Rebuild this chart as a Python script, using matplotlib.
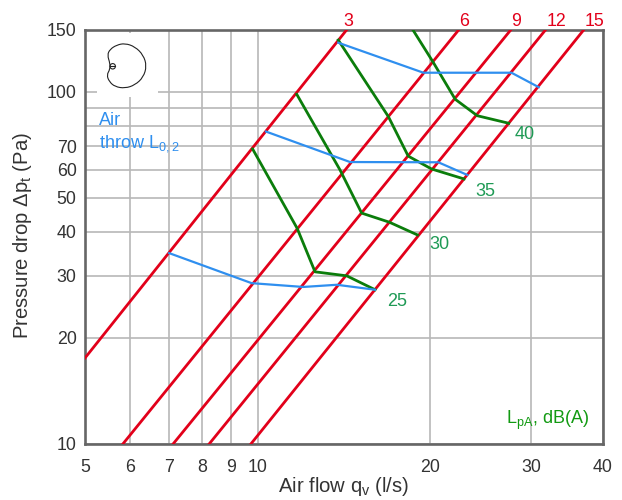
import matplotlib
matplotlib.use("Agg")
import matplotlib.pyplot as plt
import numpy as np
from matplotlib.patches import PathPatch, Rectangle
from matplotlib.path import Path

plt.rcParams['font.family'] = ['Liberation Sans', 'DejaVu Sans']
plt.rcParams['mathtext.default'] = 'regular'

# data, q in l/s and p in Pa
x_ticks = [5, 6, 7, 8, 9, 10, 20, 30, 40]
x_labels = ['5', '6', '7', '8', '9', '10', '20', '30', '40']
y_ticks = [10, 20, 30, 40, 50, 60, 70, 80, 90, 100, 150]
y_labels = ['10', '20', '30', '40', '50', '60', '70', '', '', '100', '150']

throw_names = ['3', '6', '9', '12', '15']
throw_q = [[5, 14.31], [5.82, 22.44], [7.12, 27.66], [8.23, 31.8], [9.73, 37.07]]
throw_p = [[17.54, 150], [10, 150], [10, 150], [10, 150], [10, 150]]

blue_q = [[7.01, 9.76, 12.01, 13.74, 16.02],
          [10.34, 14.49, 20.65, 23.2],
          [13.82, 19.45, 27.7, 30.9]]
blue_p = [[34.8, 28.6, 27.9, 28.3, 27.4],
          [77.0, 63.1, 63.0, 58.0],
          [137.6, 113.1, 113.1, 102.9]]

sound_names = ['25', '30', '35', '40']
green_q = [[9.8, 11.72, 12.59, 14.3, 16.02],
           [11.7, 13.92, 15.18, 16.96, 18.99],
           [13.82, 16.9, 18.3, 20.1, 22.9],
           [18.63, 20.2, 22.1, 24.15, 27.4]]
green_p = [[68.7, 40.9, 30.8, 30.0, 27.4],
           [98.2, 59.9, 45.2, 42.6, 39.2],
           [140, 84.9, 65.6, 60.3, 56.5],
           [150, 121.6, 95.1, 85.4, 81.3]]

# outline of the little directivity icon, in picture pixels
icon_x = [110, 107.3, 110, 116.7, 125, 135, 143.3, 146.7, 143.3, 135, 125, 115, 109.3, 106.7, 110]
icon_y = [63.3, 55, 49.3, 45, 43.3, 46.7, 55, 66, 77.3, 85, 88.3, 86.7, 81.7, 75, 69.3]

W, H = 622, 500
RED = '#e2001a'
GREEN = '#0b7d0b'
BLUE = '#2f8fef'
LABEL_GREEN = '#1f9a55'
DARK = '#333333'


def put(x, y, s, **kw):
    # text placed by picture pixels
    fig.text(x / W, 1 - y / H, s, ha=kw.pop('ha', 'center'), va=kw.pop('va', 'center'),
             fontsize=kw.pop('fontsize', 13), **kw)


fig = plt.figure(figsize=(W / 100, H / 100), dpi=100)
ax = fig.add_axes([85 / W, (H - 444) / H, 518 / W, 414.5 / H])
ax.set_xscale('log')
ax.set_yscale('log')
ax.set_xlim(5, 40)
ax.set_ylim(10, 150)

ax.set_xticks(x_ticks, x_labels)
ax.set_yticks(y_ticks, y_labels)
ax.minorticks_off()
ax.tick_params(length=0, labelsize=12.8, labelcolor=DARK)
ax.tick_params(axis='x', pad=11)
ax.tick_params(axis='y', pad=6)
ax.grid(True, color='#b8b8b8', lw=1.2)
ax.set_axisbelow(True)
for s in ax.spines.values():
    s.set_color('#666666')
    s.set_linewidth(1.9)

for q, p in zip(throw_q, throw_p):
    ax.plot(q, p, color=RED, lw=2.0, zorder=3)
for q, p in zip(green_q, green_p):
    ax.plot(q, p, color=GREEN, lw=2.0, zorder=4)
for q, p in zip(blue_q, blue_p):
    ax.plot(q, p, color=BLUE, lw=1.6, zorder=5)

# icon sits on a white patch that hides the grid
px = fig.add_axes([0, 0, 1, 1], facecolor='none')
px.set_xlim(0, W)
px.set_ylim(H, 0)
px.axis('off')
px.add_patch(Rectangle((97, 33), 61, 64, fc='white', ec='none'))

ox = np.array(icon_x)
oy = np.array(icon_y)
mx = (ox + np.roll(ox, -1)) / 2
my = (oy + np.roll(oy, -1)) / 2
verts = [(mx[-1], my[-1])]
codes = [Path.MOVETO]
for i in range(len(ox)):
    verts += [(ox[i], oy[i]), (mx[i], my[i])]
    codes += [Path.CURVE3, Path.CURVE3]
px.add_patch(PathPatch(Path(verts, codes), fc='none', ec='#222222', lw=0.8))
px.add_patch(plt.Circle((112.7, 66.3), 2.7, fc='none', ec='#222222', lw=0.8))
px.plot([110, 115.4], [66.3, 66.3], color='#222222', lw=0.8)

put(344, 487, 'Air flow q$_v$ (l/s)', color=DARK, fontsize=14.6)
put(23, 236, 'Pressure drop Δp$_t$ (Pa)', color=DARK, rotation=90, fontsize=14.6)

for name, x in zip(throw_names, [348, 464, 516, 556, 594]):
    put(x, 21.5, name, color=RED, fontsize=12.8)
for name, x, y in zip(sound_names, [397, 439, 485, 525], [301.5, 244.5, 191.5, 134.5]):
    put(x, y, name, color=LABEL_GREEN)

put(99, 120.5, 'Air', color=BLUE, ha='left')
put(99, 143.5, 'throw L$_{0,2}$', color=BLUE, ha='left')
put(589, 420, 'L$_{pA}$, dB(A)', color='#129a12', ha='right')

fig.savefig('out.png', dpi=100)
